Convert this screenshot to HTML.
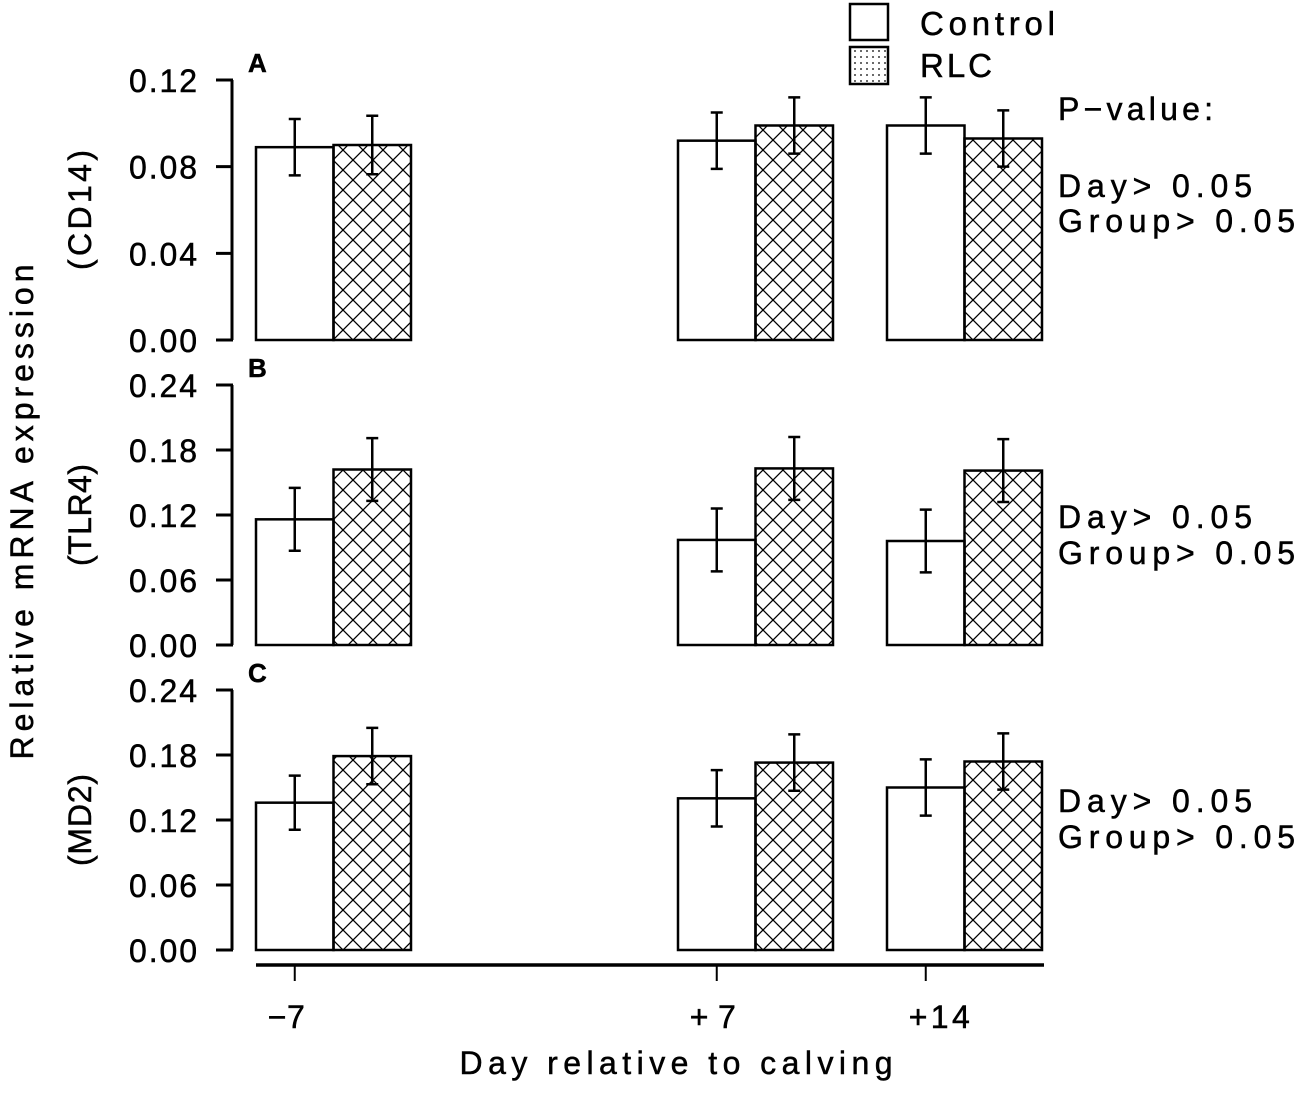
<!DOCTYPE html>
<html><head><meta charset="utf-8"><style>
body{margin:0;background:#fff}
svg text{font-family:"Liberation Sans",sans-serif;fill:#000;stroke:#000;stroke-width:0.5}
</style></head><body>
<svg width="1299" height="1090" viewBox="0 0 1299 1090" xmlns="http://www.w3.org/2000/svg">
<defs>
<pattern id="hatch" width="20" height="20" patternUnits="userSpaceOnUse" x="333" y="0">
<path d="M0,0 L20,20 M20,0 L0,20 M-10,10 L10,30 M10,-10 L30,10 M-10,10 L10,-10 M10,30 L30,10" stroke="#000" stroke-width="1.3"/>
</pattern>
<pattern id="dots" width="6" height="6" patternUnits="userSpaceOnUse">
<circle cx="3" cy="3" r="0.9" fill="#000"/>
</pattern>
</defs>
<g id="root"></g>
</svg>
<script>
const days = ["−7", "+7", "+14"];
const panelLabels = ["A", "B", "C"];
const genes = ["(CD14)", "(TLR4)", "(MD2)"];
const yMaxes = [0.12, 0.24, 0.24];
const yTicksA = ["0.00", "0.04", "0.08", "0.12"];
const yTicksB = ["0.00", "0.06", "0.12", "0.18", "0.24"];
const yTicksC = ["0.00", "0.06", "0.12", "0.18", "0.24"];
const controlA = [0.089, 0.092, 0.099];
const rlcA = [0.090, 0.099, 0.093];
const controlErrA = [0.013, 0.013, 0.013];
const rlcErrA = [0.0135, 0.013, 0.013];
const controlB = [0.116, 0.097, 0.096];
const rlcB = [0.162, 0.163, 0.161];
const controlErrB = [0.029, 0.029, 0.029];
const rlcErrB = [0.029, 0.029, 0.029];
const controlC = [0.136, 0.140, 0.150];
const rlcC = [0.179, 0.173, 0.174];
const controlErrC = [0.025, 0.026, 0.026];
const rlcErrC = [0.026, 0.026, 0.026];

const NS = "http://www.w3.org/2000/svg";
const root = document.getElementById('root');
function mk(tag, attrs, parent){const e=document.createElementNS(NS,tag);for(const k in attrs)e.setAttribute(k,attrs[k]);(parent||root).appendChild(e);return e;}
function txt(x,y,s,size,anchor,parent,len,weight){const a={x:x,y:y,'font-size':size,'text-anchor':anchor||'start','font-weight':weight||'normal'};if(len){a.textLength=len;a.lengthAdjust='spacing';}const t=mk('text',a,parent);t.textContent=s;return t;}

const groupX = [256, 678, 887];
const barW = 77.5;
const xScale = i => groupX[i];
const geneLens = [120, 102, 92];
const panels = [
 {top:80, bot:340, ticks:yTicksA, c:controlA, r:rlcA, ce:controlErrA, re:rlcErrA, p:true, stat:[185,220], geneY:210},
 {top:385, bot:645, ticks:yTicksB, c:controlB, r:rlcB, ce:controlErrB, re:rlcErrB, p:false, stat:[516,552], geneY:515},
 {top:690, bot:950, ticks:yTicksC, c:controlC, r:rlcC, ce:controlErrC, re:rlcErrC, p:false, stat:[800,836], geneY:820}
];
panels.forEach((P,pi)=>{
  const g = mk('g',{});
  
  
  const ymax = yMaxes[pi];
  const y = v => P.bot - v/ymax*(P.bot-P.top);
  const ax = mk('g',{},g);
  
  
  mk('line',{x1:232,y1:P.top,x2:232,y2:P.bot,stroke:'#000','stroke-width':3},ax);
  P.ticks.forEach((t,i)=>{
    const v = i*ymax/(P.ticks.length-1);
    mk('line',{x1:216,y1:y(v),x2:233,y2:y(v),stroke:'#000','stroke-width':3},ax);
    const tl = txt(197,y(v)+12,t,32,'end',ax,68);
    
    
  });
  const pl = txt(248,P.top-8,panelLabels[pi],26,'start',g,null,'bold');
  
  
  const gt = txt(0,0,genes[pi],32,'middle',g,geneLens[pi]);
  gt.setAttribute('transform','translate(91,'+P.geneY+') rotate(-90)');
  
  
  days.forEach((d,i)=>{
    const x0 = xScale(i);
    [[P.c[i],P.ce[i],'#fff','control'],[P.r[i],P.re[i],'url(#hatch)','rlc']].forEach((b,k)=>{
      const bx = x0 + k*barW;
      const r = mk('rect',{x:bx,y:y(b[0]),width:barW,height:P.bot-y(b[0]),fill:b[2],stroke:'#000','stroke-width':2.5},g);
      
      
      const cx = bx + barW/2;
      const eb = mk('path',{d:`M${cx},${y(b[0]+b[1])}V${y(b[0]-b[1])}M${cx-6},${y(b[0]+b[1])}H${cx+6}M${cx-6},${y(b[0]-b[1])}H${cx+6}`,stroke:'#000','stroke-width':2.5,fill:'none'},g);
      
      
    });
  });
  if(P.p){const pv=txt(1058,120,'P−value:',32,'start',g,155);}
  const s1 = txt(1058,P.stat[0]+12,'Day> 0.05',32,'start',g,194);
  
  
  const s2 = txt(1058,P.stat[1]+12,'Group> 0.05',32,'start',g,237);
  
  
});
// x axis
const dayLens = [37, 46, 61];
const xa = mk('g',{});


mk('line',{x1:256,y1:965,x2:1044,y2:965,stroke:'#000','stroke-width':3.5},xa);
days.forEach((d,i)=>{
  const cx = xScale(i)+barW/2;
  mk('line',{x1:cx,y1:965,x2:cx,y2:981,stroke:'#000','stroke-width':2},xa);
  const t = txt(cx-27+(i==2?10:0),1028,d,32,'start',xa,dayLens[i]);
  
  
});
const xt = txt(676,1074,'Day relative to calving',32,'middle',null,433);


const yt = txt(0,0,'Relative mRNA expression',32,'middle',null,495);
yt.setAttribute('transform','translate(33,512) rotate(-90)');


// legend
const lg = mk('g',{});


const l1 = mk('rect',{x:850,y:4,width:38,height:36,fill:'#fff',stroke:'#000','stroke-width':2.5},lg);


const l2 = mk('rect',{x:850,y:47,width:38,height:37,fill:'url(#dots)',stroke:'#000','stroke-width':2.5},lg);


const lt1 = txt(920,35,'Control',33,'start',lg,135);


const lt2 = txt(920,77,'RLC',33,'start',lg,72);


</script>
</body></html>
